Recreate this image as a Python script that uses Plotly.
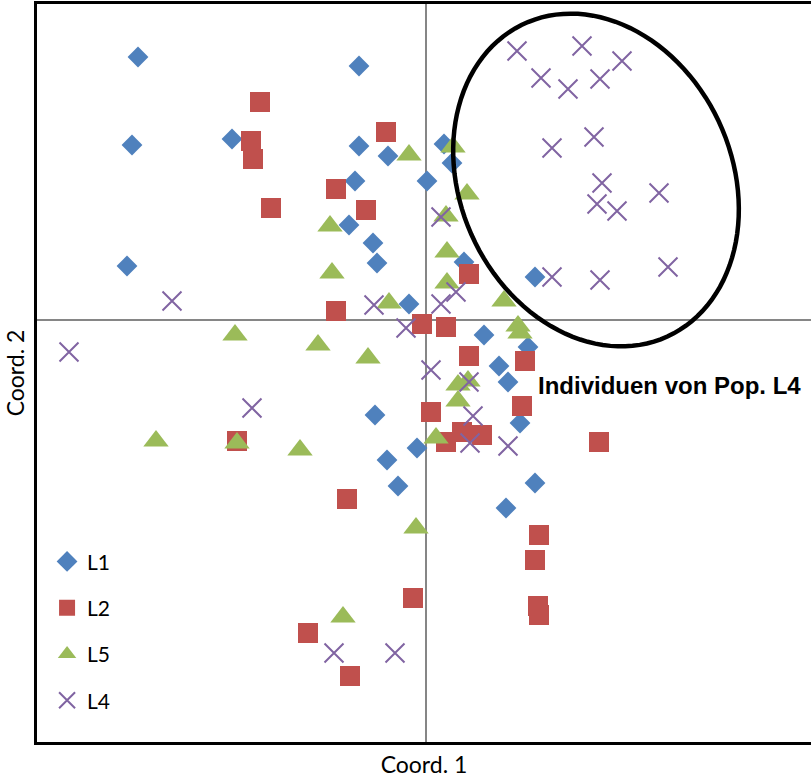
import numpy as np
import plotly.graph_objects as go

# ---- data (Coord. 1, Coord. 2) ----
L1_x = [-2.88, -0.67, -2.94, -1.94, -0.67, -0.38, 0.18, 0.26, -0.71, 0.01, -0.77, -0.53, -0.49, -2.99,
        0.38, 1.09, -0.17, 0.58, 1.02, 0.73, 0.82, -0.51, 0.94, -0.09, -0.39, -0.28, 1.09, 0.80]
L1_y = [2.63, 2.54, 1.75, 1.81, 1.74, 1.64, 1.76, 1.57, 1.39, 1.39, 0.95, 0.77, 0.57, 0.54,
        0.58, 0.43, 0.16, -0.15, -0.27, -0.46, -0.62, -0.95, -1.03, -1.28, -1.40, -1.66, -1.63, -1.88]

L2_x = [-1.66, -0.40, -1.75, -1.73, -0.90, -1.55, -0.60, 0.43, -0.90, -0.04, 0.20, 0.43, 0.99, 0.96,
        0.05, 0.36, 0.56, 0.20, 1.73, -1.89, -0.79, 1.13, 1.09, -0.13, 1.12, 1.13, -1.18, -0.76]
L2_y = [2.18, 1.88, 1.79, 1.61, 1.31, 1.12, 1.10, 0.46, 0.09, -0.04, -0.07, -0.36, -0.41, -0.86,
        -0.92, -1.12, -1.15, -1.22, -1.22, -1.21, -1.79, -2.15, -2.40, -2.78, -2.86, -2.95, -3.13, -3.56]

L5_x = [-0.17, 0.27, 0.41, 0.20, -0.96, 0.21, -0.94, 0.21, -0.37, 0.78, 0.92, 0.94, -1.91, -1.08,
        -0.58, 0.42, 0.32, 0.32, 0.10, -2.70, -1.89, -1.26, -0.10, -0.83]
L5_y = [1.65, 1.73, 1.26, 1.04, 0.94, 0.68, 0.47, 0.37, 0.17, 0.19, -0.06, -0.13, -0.15, -0.25,
        -0.38, -0.61, -0.65, -0.81, -1.18, -1.21, -1.23, -1.30, -2.08, -2.97]

L4_x = [0.91, 1.56, 1.96, 1.15, 1.42, 1.74, 1.26, 1.68, 1.76, 1.71, 1.91, 2.33, 1.26, 1.74, 2.42,
        0.15, 0.30, 0.15, -0.52, -0.20, -2.54, -3.57, 0.05, 0.43, 0.47, 0.44, 0.82, -1.74, -0.92, -0.31]
L4_y = [2.69, 2.74, 2.59, 2.42, 2.31, 2.41, 1.72, 1.83, 1.37, 1.16, 1.09, 1.27, 0.43, 0.40, 0.53,
        1.03, 0.28, 0.16, 0.15, -0.08, 0.19, -0.32, -0.50, -0.62, -0.96, -1.23, -1.26, -0.88, -3.33, -3.33]

series_names = ["L1", "L2", "L5", "L4"]

# ---- styles ----
BLUE, RED, GREEN, PURPLE = "#4F81BD", "#C0504D", "#9BBB59", "#8064A2"
FONT = "Lato, 'Open Sans', sans-serif"

fig = go.Figure()
fig.add_trace(go.Scatter(x=L1_x, y=L1_y, mode="markers", name=series_names[0], legendgroup="a",
                         marker=dict(symbol="diamond", size=16, color=BLUE)))
fig.add_trace(go.Scatter(x=L2_x, y=L2_y, mode="markers", name=series_names[1], legendgroup="b",
                         marker=dict(symbol="square", size=20, color=RED)))
fig.add_trace(go.Scatter(x=L5_x, y=L5_y, mode="markers", name=series_names[2], legendgroup="c",
                         marker=dict(symbol="triangle-up", size=22, color=GREEN)))
fig.add_trace(go.Scatter(x=L4_x, y=L4_y, mode="markers", name=series_names[3], legendgroup="d",
                         marker=dict(symbol="x-thin-open", size=19, color=PURPLE,
                                     line=dict(width=2, color=PURPLE))))

# ellipse around the L4 individuals (annotation shape)
cx, cy, a, b, theta = 1.70, 1.40, 1.72, 1.36, np.deg2rad(-65.5)
t = np.linspace(0, 2 * np.pi, 120)
ex = cx + a * np.cos(t) * np.cos(theta) - b * np.sin(t) * np.sin(theta)
ey = cy + a * np.cos(t) * np.sin(theta) + b * np.sin(t) * np.cos(theta)
path = "M " + " L ".join(f"{px:.4f},{py:.4f}" for px, py in zip(ex, ey)) + " Z"
fig.add_shape(type="path", path=path, xref="x", yref="y", line=dict(color="black", width=4.5))

fig.add_annotation(x=1.10, y=-0.65, xref="x", yref="y", text="<b>Individuen von Pop. L4</b>",
                   showarrow=False, xanchor="left", yanchor="middle",
                   font=dict(family="'Liberation Sans', Arial, sans-serif", size=24, color="black"))

fig.update_layout(
    width=811, height=778,
    margin=dict(l=37, r=0, t=4, b=36),
    paper_bgcolor="white", plot_bgcolor="white",
    font=dict(family=FONT, color="black"),
    showlegend=True,
    legend=dict(x=0.013, y=0.272, xanchor="left", yanchor="top", bgcolor="rgba(0,0,0,0)",
                font=dict(family=FONT, size=21, color="black"),
                traceorder="grouped", tracegroupgap=16),
    xaxis=dict(range=[-3.89, 3.85], showgrid=False, showticklabels=False, ticks="",
               zeroline=True, zerolinecolor="#868686", zerolinewidth=2,
               showline=True, linecolor="black", linewidth=2.5, mirror=True,
               title=dict(text="Coord. 1", font=dict(family=FONT, size=23), standoff=14),
               automargin=False),
    yaxis=dict(range=[-4.22, 3.16], showgrid=False, showticklabels=False, ticks="",
               zeroline=True, zerolinecolor="#868686", zerolinewidth=2,
               showline=True, linecolor="black", linewidth=2.5, mirror=True,
               title=dict(text="Coord. 2", font=dict(family=FONT, size=23), standoff=4),
               automargin=False),
)

fig.write_html("out.html")
